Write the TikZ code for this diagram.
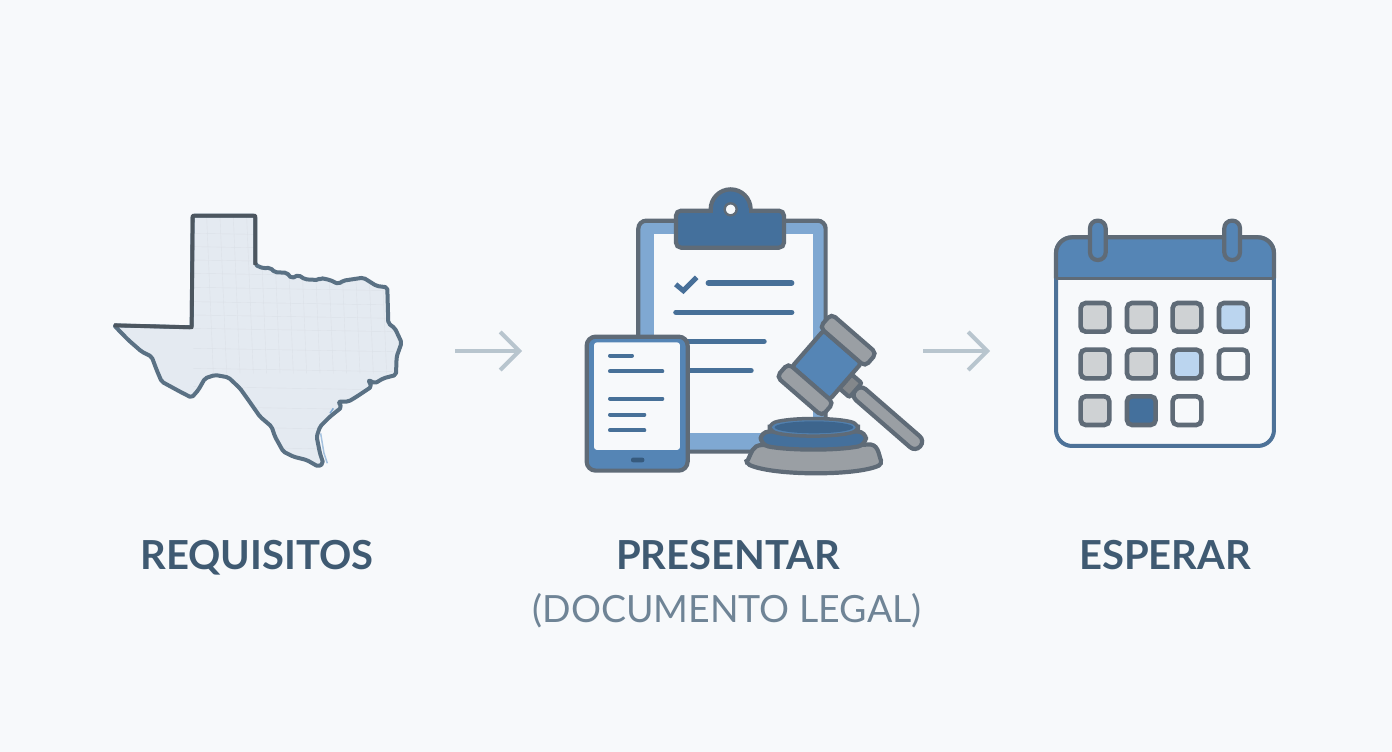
\documentclass[tikz,border=0pt]{standalone}
\usepackage{fontspec}
\setmainfont{Lato}
\usetikzlibrary{arrows.meta}
\definecolor{fondo}{HTML}{F7F9FB}
\definecolor{tinta}{HTML}{3F5A72}
\definecolor{tintaclara}{HTML}{6F8496}
\definecolor{borde}{HTML}{5F6B77}
\definecolor{azul}{HTML}{5585B5}
\definecolor{azuloscuro}{HTML}{44709C}
\definecolor{azulclaro}{HTML}{7FA8D2}
\definecolor{azulpalido}{HTML}{BBD5EF}
\definecolor{gris}{HTML}{9A9FA4}
\definecolor{grisclaro}{HTML}{CFD2D4}
\definecolor{mapa}{HTML}{E4EAF1}
\definecolor{mapaborde}{HTML}{5A7184}
\definecolor{flecha}{HTML}{B8C5CE}
\tikzset{
  titulo/.style={font=\fontsize{40}{40}\selectfont\bfseries, text=tinta, inner sep=0pt, anchor=base},
  subtitulo/.style={font=\fontsize{37.5}{37.5}\selectfont, text=tintaclara, inner sep=0pt, anchor=base},
  avance/.style={draw=flecha, line width=4pt, -{Straight Barb[length=19pt,width=38pt]}},
  pieza/.style={draw=borde, line width=4.2pt, rounded corners=5pt},
  renglon/.style={draw=azuloscuro!90!borde, line width=5.5pt, line cap=round},
  renglonfino/.style={draw=azuloscuro!90!borde, line width=4pt, line cap=round},
  dia/.style={draw=borde, line width=4.6pt, rounded corners=5pt}
}
\def\texaspath{(278,47) -- (466,47) -- (466,195) -- (490,205) -- (510,203) -- (525,217) -- (560,218) -- (575,235) -- (595,225) -- (615,238) -- (655,240) -- (662,234) -- (690,240) -- (715,252) -- (730,242) -- (790,233) -- (830,258) -- (862,262) -- (865,370) -- (885,385) -- (905,428) -- (890,470) -- (888,525) -- (850,535) -- (825,550) -- (805,540) -- (815,560) -- (770,590) -- (745,605) -- (715,605) -- (725,622) -- (690,650) -- (660,680) -- (650,710) -- (660,760) -- (670,790) -- (655,800) -- (620,780) -- (580,770) -- (550,755) -- (525,710) -- (515,680) -- (480,650) -- (445,600) -- (420,565) -- (385,532) -- (345,525) -- (315,535) -- (295,570) -- (275,593) -- (240,575) -- (185,545) -- (170,510) -- (155,470) -- (125,455) -- (85,420) -- (42,376) -- (275,382) -- cycle}
\begin{document}
\begin{tikzpicture}[x=1pt, y=-1pt]
  \fill[fondo] (0,0) rectangle (1392,752);
  \useasboundingbox (0,0) rectangle (1392,752);

  % mapa
  \begin{scope}[shift={(100,200)}, x=0.3333pt, y=-0.3333pt]
    \fill[mapa] \texaspath;
    \begin{scope}
      \clip \texaspath;
      \foreach \x in {320,360,400,440,480,520,560,600,640,680,720,760,800,840}
        \draw[mapa!92!gray, line width=0.4pt] (\x,50) -- (\x+20,520);
      \foreach \y in {100,140,180,220,262,305,345,385,445,505,560,620,680,740}
        \draw[mapa!92!gray, line width=0.4pt] (280,\y) -- (880,\y+10);
    \end{scope}
    \draw[mapaborde, line width=4pt, line join=round, rounded corners=2pt] \texaspath;
    \draw[borde!80!black, line width=3.8pt, line join=round] (42,376) -- (275,382) -- (278,47) -- (466,47) -- (466,195);
    \draw[azulclaro!70!white, line width=1.5pt] (662,700) -- (672,760) -- (682,790);
    \draw[azulclaro, line width=1.5pt] (690,640) -- (700,625);
  \end{scope}

  % portapapeles
  \begin{scope}[shift={(570,180)}, x=0.3333pt, y=-0.3333pt]
    \draw[pieza, rounded corners=8pt, fill=azulclaro] (205,122) rectangle (767,815);
    \fill[fondo] (252,162) rectangle (728,760);
    \draw[borde, line width=4.2pt, fill=azuloscuro] (482,88) circle (60);
    \draw[pieza, fill=azuloscuro] (318,92) rectangle (642,203);
    \fill[azuloscuro] (428,105) rectangle (536,85);
    \draw[borde, line width=2.4pt, fill=fondo] (482,88) circle (18);
    \draw[azuloscuro!90!borde, line width=5pt] (317,313) -- (340,332) -- (380,292);
    \foreach \xa/\xb/\y in {415/665/309, 318/665/397, 340/582/484, 340/543/572}
      \draw[renglon] (\xa,\y) -- (\xb,\y);

    % tableta
    \draw[pieza, rounded corners=9pt, fill=azul] (50,470) rectangle (353,872);
    \fill[fondo, rounded corners=3pt] (72,487) rectangle (330,810);
    \fill[azuloscuro!80!black, rounded corners=2pt] (183,833) rectangle (223,847);
    \foreach \xb/\y in {186/527, 277/574, 277/656, 223/704, 223/751}
      \draw[renglonfino] (120,\y) -- (\xb,\y);

    % mazo
    \begin{scope}[shift={(770,555)}, rotate=-41]
      \draw[pieza, rounded corners=7pt, fill=gris] (115,-22) rectangle (372,22);
      \draw[pieza, rounded corners=2pt, fill=gris!85!black] (75,-28) rectangle (115,28);
      \draw[pieza, rounded corners=3pt, fill=azul] (-75,-72) rectangle (75,72);
      \draw[pieza, fill=gris] (-90,-125) rectangle (90,-72);
      \draw[pieza, fill=gris] (-90,72) rectangle (90,125);
    \end{scope}

    % base del mazo
    \draw[pieza, rounded corners=4pt, fill=gris] (528,850) .. controls (545,820) and (545,795) .. (590,795) -- (880,795) .. controls (925,790) and (925,820) .. (937,852) .. controls (860,888) and (610,888) .. cycle;
    \draw[pieza, rounded corners=8pt, fill=azuloscuro] (572,755) -- (888,755) -- (888,795) .. controls (800,812) and (660,812) .. (572,795) -- cycle;
    \draw[pieza, line width=3.5pt, rounded corners=6pt, fill=azul!80!azuloscuro] (598,732) .. controls (660,712) and (800,712) .. (865,732) -- (865,752) .. controls (800,772) and (660,772) .. (598,752) -- cycle;
    \fill[azuloscuro!90!black] (732,742) ellipse (118 and 18);
  \end{scope}

  % calendario
  \begin{scope}[shift={(1040,210)}, x=0.3333pt, y=-0.3333pt]
    \draw[azuloscuro!85!gray, line width=4pt, fill=fondo, rounded corners=16pt] (48,82) rectangle (702,708);
    \draw[pieza, fill=azul, rounded corners=16pt] (48,205) -- (48,82) -- (702,82) -- (702,205);
    \draw[borde, line width=3.5pt] (48,205) -- (702,205);
    \foreach \x in {150,553}
      \draw[pieza, rounded corners=7.5pt, fill=azul] (\x,32) rectangle (\x+47,150);
    \foreach \x/\y/\relleno in {165/322/grisclaro, 304/322/grisclaro, 441/322/grisclaro, 580/322/azulpalido,
                                165/462/grisclaro, 304/462/grisclaro, 441/462/azulpalido, 580/462/fondo,
                                165/602/grisclaro, 304/602/azuloscuro, 441/602/fondo}
      \draw[dia, fill=\relleno] (\x-43,\y-43) rectangle (\x+43,\y+43);
  \end{scope}

  % flechas
  \coordinate (req) at (455,351);
  \coordinate (pre) at (522,351);
  \coordinate (doc) at (923,351);
  \coordinate (esp) at (990,351);
  \draw[avance] (req) -- (pre);
  \draw[avance] (doc) -- (esp);

  % textos
  \node[titulo] (requisitos) at (257,569) {REQUISITOS};
  \node[titulo] (presentar) at (728,569) {PRESENTAR};
  \node[subtitulo] (documento) at (727,622) {(DOCUMENTO LEGAL)};
  \node[titulo] (esperar) at (1165,569) {ESPERAR};
\end{tikzpicture}
\end{document}
